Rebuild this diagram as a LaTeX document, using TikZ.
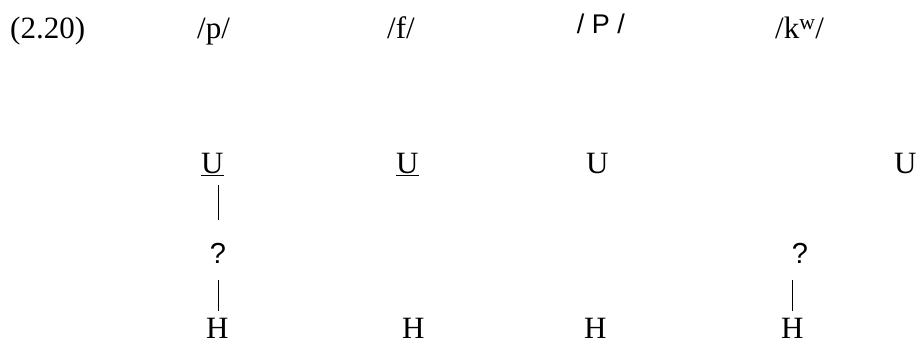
\documentclass[tikz,border=0pt]{standalone}
\usepackage{fontspec}
\setmainfont{Liberation Serif}
\newfontfamily\sansf{Liberation Sans}
\begin{document}
\begin{tikzpicture}[x=1pt,y=-1pt,
  lab/.style={inner sep=0pt,anchor=base west,font=\fontsize{31}{36}\selectfont},
  qm/.style={inner sep=0pt,anchor=base,font=\fontsize{29}{34}\selectfont\sansf},
  bar/.style={line width=1pt}]
\useasboundingbox (0,0) rectangle (919,345);
\node[lab] (num) at (10,39) {(2.20)};
\node[lab] (p) at (197,39) {/p/};
\node[lab] (f) at (387,39) {/f/};
\node[inner sep=0pt,anchor=base,font=\fontsize{27}{32}\selectfont\sansf] (P) at (601,34) {/ P /};
\node[lab] (kw) at (775,39) {/k\textsuperscript{w}/};
\node[lab] (u1) at (201,173) {\underline{U}};
\node[lab] (u2) at (396,173) {\underline{U}};
\node[lab] (u3) at (586,173) {U};
\node[lab] (u4) at (894,173) {U};
\node[qm] (q1) at (218,263) {?};
\node[qm] (q4) at (800,263) {?};
\node[lab] (h1) at (206,338) {H};
\node[lab] (h2) at (402,338) {H};
\node[lab] (h3) at (584,338) {H};
\node[lab] (h4) at (781,338) {H};
\draw[bar,shorten <=9pt,shorten >=23pt] (q1.north |- u1.south) -- (q1.north);
\draw[bar,shorten <=17pt,shorten >=7pt] (q1.south) -- (q1.south |- h1.north);
\draw[bar,shorten <=17pt,shorten >=7pt] (h4.north |- q4.south) -- (h4.north);
\end{tikzpicture}
\end{document}
